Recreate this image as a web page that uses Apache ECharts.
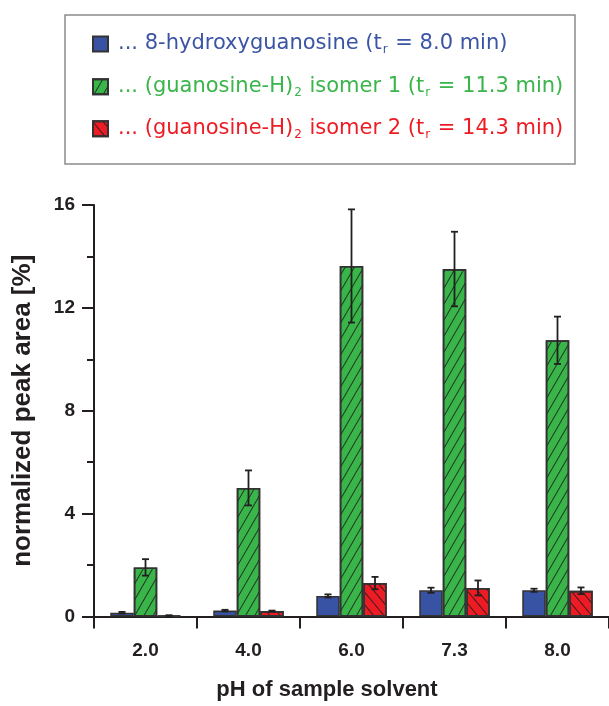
<!DOCTYPE html>
<html>
<head>
<meta charset="utf-8">
<script src="https://cdn.jsdelivr.net/npm/echarts@6/dist/echarts.min.js"></script>
<style>
html,body{margin:0;padding:0;background:#fff;}
#main{width:609px;height:706px;}
</style>
</head>
<body>
<div id="main"></div>
<script>
var categories = ['2.0', '4.0', '6.0', '7.3', '8.0'];
var seriesNames = ['8-hydroxyguanosine', '(guanosine-H)2 isomer 1', '(guanosine-H)2 isomer 2'];
var hydroxy = [0.15, 0.23, 0.80, 1.02, 1.02];
var hydroxyErr = [0.03, 0.03, 0.06, 0.10, 0.06];
var iso1 = [1.91, 5.00, 13.63, 13.51, 10.74];
var iso1Err = [0.32, 0.68, 2.20, 1.45, 0.92];
var iso2 = [0.03, 0.21, 1.30, 1.11, 1.00];
var iso2Err = [0.02, 0.02, 0.24, 0.29, 0.13];
var yTicks = [0, 4, 8, 12, 16];

var colors = ['#3953a4', '#39b54a', '#ed1c24'];
var textColors = ['#3b55a5', '#39b54a', '#ed1c24'];
var BAR_W = 23.5;
var TXT = '#231f20';

var chart = echarts.init(document.getElementById('main'), null, {renderer: 'canvas'});

function errSeries(idx, vals, errs) {
  var data = vals.map(function (v, i) { return [i, v, errs[i]]; });
  return {
    type: 'custom',
    name: 'err' + idx,
    z: 10,
    silent: true,
    data: data,
    renderItem: function (params, api) {
      var c = api.value(0), v = api.value(1), e = api.value(2);
      var off = (idx - 1) * BAR_W;
      var top = api.coord([c, v + e]);
      var bot = api.coord([c, v - e]);
      var x = top[0] + off;
      var cap = 3.5;
      var st = {stroke: '#231f20', lineWidth: 1.8};
      return {
        type: 'group',
        children: [
          {type: 'line', shape: {x1: x, y1: top[1], x2: x, y2: bot[1]}, style: st},
          {type: 'line', shape: {x1: x - cap, y1: top[1], x2: x + cap, y2: top[1]}, style: st},
          {type: 'line', shape: {x1: x - cap, y1: bot[1], x2: x + cap, y2: bot[1]}, style: st}
        ]
      };
    }
  };
}

var decals = [
  null,
  {symbol: 'rect', symbolSize: 1, dashArrayX: [1, 0], dashArrayY: [1, 6.5], rotation: -Math.PI / 3, color: 'rgba(25,25,25,0.8)'},
  {symbol: 'rect', symbolSize: 1, dashArrayX: [1, 0], dashArrayY: [1, 6.5], rotation: Math.PI * 0.28, color: 'rgba(25,25,25,0.8)'}
];

function barSeries(idx, vals) {
  var it = {color: colors[idx], borderColor: '#333', borderWidth: 1.6};
  if (decals[idx]) it.decal = decals[idx];
  return {
    type: 'bar',
    name: seriesNames[idx],
    data: vals,
    barWidth: BAR_W,
    barGap: '0%',
    itemStyle: it,
    emphasis: {disabled: true}
  };
}

var legendTexts = [
  '{a0|...} {a|8-hydroxyguanosine (t}{b|r}{a| = 8.0 min)}',
  '{a0|...} {a|(guanosine-H)}{b|2}{a| isomer 1 (t}{b|r}{a| = 11.3 min)}',
  '{a0|...} {a|(guanosine-H)}{b|2}{a| isomer 2 (t}{b|r}{a| = 14.3 min)}'
];
var legendCenters = [44, 86.7, 128.7];

function makeLegend(idx) {
  return {
    data: [seriesNames[idx]],
    left: 92,
    top: legendCenters[idx] - 12,
    padding: 0,
    itemWidth: 15,
    itemHeight: 15,
    icon: 'rect',
    selectedMode: false,
    formatter: function () { return legendTexts[idx]; },
    textStyle: {
      color: textColors[idx],
      fontFamily: 'DejaVu Sans',
      fontSize: 21,
      rich: {
        a0: {color: textColors[idx], fontFamily: 'DejaVu Sans', fontSize: 21, padding: [0, 0, 0, 5], lineHeight: 24},
        a: {color: textColors[idx], fontFamily: 'DejaVu Sans', fontSize: 21, lineHeight: 24},
        b: {color: textColors[idx], fontFamily: 'DejaVu Sans', fontSize: 12, padding: [12, 1, 0, 1], lineHeight: 24}
      }
    }
  };
}

var option = {
  animation: false,
  backgroundColor: '#ffffff',
  legend: [makeLegend(0), makeLegend(1), makeLegend(2)],
  grid: {left: 94, right: -9, top: 205, bottom: 89.5, containLabel: false},
  xAxis: {
    type: 'category',
    data: categories,
    axisLine: {lineStyle: {color: TXT, width: 2}},
    axisTick: {show: true, length: 12, lineStyle: {color: TXT, width: 2}},
    axisLabel: {color: TXT, fontFamily: 'Liberation Sans', fontWeight: 'bold', fontSize: 19, margin: 25}
  },
  yAxis: {
    type: 'value',
    min: 0, max: 16, interval: 4,
    name: 'normalized peak area [%]',
    nameLocation: 'middle',
    nameGap: 58,
    nameTextStyle: {color: TXT, fontFamily: 'Liberation Sans', fontWeight: 'bold', fontSize: 26},
    axisLine: {show: true, lineStyle: {color: TXT, width: 2}},
    axisTick: {show: true, length: 12, lineStyle: {color: TXT, width: 2}},
    minorTick: {show: true, splitNumber: 2, length: 7, lineStyle: {color: TXT, width: 2}},
    splitLine: {show: false},
    axisLabel: {
      color: TXT, fontFamily: 'Liberation Sans', fontWeight: 'bold', fontSize: 19, margin: 19,
      formatter: function (v) { return yTicks.indexOf(v) >= 0 ? String(v) : ''; }
    }
  },
  graphic: [
    {type: 'rect', shape: {x: 65, y: 15, width: 510, height: 149}, style: {fill: 'none', stroke: '#8c8c8c', lineWidth: 1.5}, z: 0},
    {type: 'text', x: 327, y: 690, style: {text: 'pH of sample solvent', fill: TXT, font: 'bold 22px "Liberation Sans"', textAlign: 'center', textVerticalAlign: 'middle'}}
  ],
  series: [
    barSeries(0, hydroxy),
    barSeries(1, iso1),
    barSeries(2, iso2),
    errSeries(0, hydroxy, hydroxyErr),
    errSeries(1, iso1, iso1Err),
    errSeries(2, iso2, iso2Err)
  ]
};
chart.setOption(option);
</script>
</body>
</html>
